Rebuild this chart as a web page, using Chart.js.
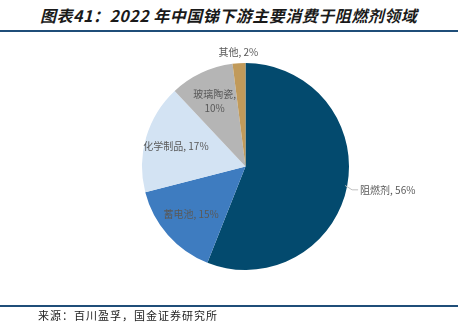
<!DOCTYPE html>
<html>
<head>
<meta charset="utf-8">
<script src="https://cdn.jsdelivr.net/npm/chart.js@4/dist/chart.umd.min.js"></script>
<style>
  html, body { margin: 0; padding: 0; background: #fff; }
  #wrap { position: relative; width: 469px; height: 329px; overflow: hidden; font-family: "Noto Sans CJK SC", "Noto Sans", sans-serif; }
  #title { position: absolute; left: 40px; top: 3px; font-size: 16px; font-weight: bold; font-style: italic; letter-spacing: 0.5px; color: #1a1a1a; white-space: nowrap; }
  .rule { position: absolute; left: 0; width: 458px; height: 2px; background: #1f4e79; }
  #source { position: absolute; left: 38px; top: 307px; font-size: 11px; letter-spacing: 1px; color: #222; white-space: nowrap; }
  canvas { position: absolute; left: 0; top: 0; }
</style>
</head>
<body>
<div id="wrap">
  <div id="title">图表41：2022 年中国锑下游主要消费于阻燃剂领域</div>
  <div class="rule" style="top:30px"></div>
  <canvas id="pieChart" width="469" height="329"></canvas>
  <div class="rule" style="top:305px"></div>
  <div id="source">来源：百川盈孚，国金证券研究所</div>
</div>
<script>
// 2022 antimony downstream consumption share (%)
const categories = ['阻燃剂', '蓄电池', '化学制品', '玻璃陶瓷', '其他'];
const shares = [56, 15, 17, 10, 2];
const sliceColors = ['#034a6e', '#3e7cc0', '#d3e3f3', '#b5b5b5', '#c19a5a'];
// where each label sits: outside with leader, inside, inside on two lines
const labelModes = ['outside', 'inside', 'inside', 'wrap', 'outside'];

const pieLabels = {
    id: 'pieLabels',
    afterDatasetsDraw(chart) {
        const ctx = chart.ctx;
        const arcs = chart.getDatasetMeta(0).data;
        ctx.save();
        ctx.font = '10px "Noto Sans CJK SC", sans-serif';
        ctx.fillStyle = '#595959';
        ctx.textBaseline = 'middle';
        arcs.forEach((arc, i) => {
            const mid = (arc.startAngle + arc.endAngle) / 2;
            const cos = Math.cos(mid), sin = Math.sin(mid);
            const r = arc.outerRadius;
            const text = categories[i] + ', ' + shares[i] + '%';
            if (labelModes[i] === 'outside') {
                if (Math.abs(cos) > 0.5) {
                    // side label with leader line
                    const x0 = arc.x + cos * (r - 2), y0 = arc.y + sin * (r - 2);
                    const x1 = arc.x + cos * (r + 5), y1 = arc.y + sin * (r + 5) + 3;
                    const x2 = x1 + (cos > 0 ? 6 : -6);
                    ctx.strokeStyle = '#bfbfbf';
                    ctx.lineWidth = 1;
                    ctx.beginPath();
                    ctx.moveTo(x0, y0);
                    ctx.lineTo(x1, y1);
                    ctx.lineTo(x2, y1);
                    ctx.stroke();
                    ctx.textAlign = cos > 0 ? 'left' : 'right';
                    ctx.fillText(text, x2 + (cos > 0 ? 2 : -2), y1);
                } else {
                    ctx.textAlign = 'center';
                    ctx.fillText(text, arc.x + cos * (r + 10), arc.y + sin * (r + 11));
                }
            } else {
                const rr = r * 0.7;
                const x = arc.x + cos * rr, y = arc.y + sin * rr;
                ctx.textAlign = 'center';
                if (labelModes[i] === 'wrap') {
                    ctx.fillText(categories[i] + ',', x, y - 7);
                    ctx.fillText(shares[i] + '%', x, y + 7);
                } else {
                    ctx.fillText(text, x, y);
                }
            }
        });
        ctx.restore();
    }
};

new Chart(document.getElementById('pieChart'), {
    type: 'pie',
    data: {
        labels: categories,
        datasets: [{
            data: shares,
            backgroundColor: sliceColors,
            borderWidth: 0
        }]
    },
    options: {
        responsive: false,
        animation: false,
        layout: { padding: { top: 63, bottom: 59, left: 142, right: 120 } },
        plugins: {
            legend: { display: false },
            tooltip: { enabled: false }
        }
    },
    plugins: [pieLabels]
});
</script>
</body>
</html>
